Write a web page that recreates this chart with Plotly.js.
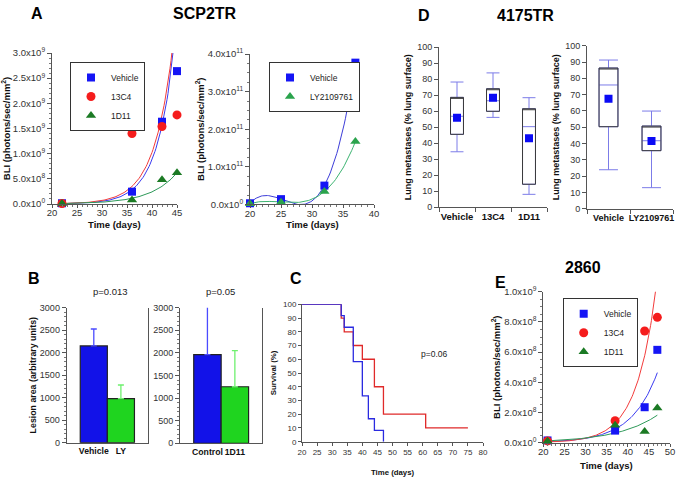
<!DOCTYPE html>
<html><head><meta charset="utf-8">
<script src="https://cdn.plot.ly/plotly-3.0.1.min.js"></script>
<style>html,body{margin:0;padding:0;background:#fff}#chart{width:685px;height:480px}</style>
</head><body><div id="chart"></div>
<script>
// ---------- Panel A (SCP2TR), left ----------
const daysA1 = [22, 36, 42, 45];
const vehicleA1 = [1.5e7, 2.45e8, 1.635e9, 2.64e9];
const c13A1 = [1.0e7, 1.40e9, 1.54e9, 1.77e9];
const d11A1 = [0.8e7, 0.8e8, 4.8e8, 6.2e8];
// exponential growth fits: y = amp * exp(rate * (day - 20))
const fitAmpA1 = [2.95e6, 4.72e6, 5.5e6];      // Vehicle, 13C4, 1D11
const fitRateA1 = [0.285, 0.269, 0.189];
const fitSpanA1 = [22, 45];
const tickValsA1 = [0, 5e8, 1e9, 1.5e9, 2e9, 2.5e9, 3e9];
const tickTextA1 = ['0.0x10<sup>0</sup>', '5.0x10<sup>8</sup>', '1.0x10<sup>9</sup>', '1.5x10<sup>9</sup>', '2.0x10<sup>9</sup>', '2.5x10<sup>9</sup>', '3.0x10<sup>9</sup>'];

// ---------- Panel A (SCP2TR), right ----------
const daysA2 = [20, 25, 32, 37];
const vehicleA2 = [0.3e10, 1.4e10, 5.0e10, 3.77e11];
const lyA2 = [0.2e10, 0.6e10, 3.4e10, 1.67e11];
const tickValsA2 = [0, 1e11, 2e11, 3e11, 4e11];
const tickTextA2 = ['0.0x10<sup>0</sup>', '1.0x10<sup>11</sup>', '2.0x10<sup>11</sup>', '3.0x10<sup>11</sup>', '4.0x10<sup>11</sup>'];

// ---------- Panel D (4175TR) ----------
const catsD1 = ['Vehicle', '13C4', '1D11'];
const q1D1 = [45.6, 60.0, 14.4];
const medD1 = [56.9, 66.6, 50.4];
const q3D1 = [68.7, 74.1, 61.6];
const loD1 = [34.7, 56.2, 8.1];
const hiD1 = [78.3, 84.0, 68.5];
const meanD1 = [56.0, 68.5, 43.1];

const catsD2 = ['Vehicle', 'LY2109761'];
const q1D2 = [50.3, 35.6];
const medD2 = [75.9, 41.7];
const q3D2 = [86.3, 50.7];
const loD2 = [23.9, 12.9];
const hiD2 = [91.2, 59.9];
const meanD2 = [67.5, 41.5];

// ---------- Panel B ----------
const catsB1 = ['Vehicle', 'LY'];
const valsB1 = [2150, 980];
const errB1 = [377, 302];
const catsB2 = ['Control', '1D11'];
const valsB2 = [1962, 1251];
const errB2 = [1208, 800];

// ---------- Panel C (survival) ----------
const timeBlue = [20, 33, 34, 37, 40, 42, 44, 47];
const survBlue = [100, 91.7, 83.3, 58.3, 33.3, 16.7, 8.3, 0];
const timeRed = [20, 33, 34, 37, 40, 44, 47, 61, 75];
const survRed = [100, 90, 80, 70, 60, 40, 20, 10, 10];

// ---------- Panel E (2860) ----------
const daysE = [21, 37, 44, 47];
const vehicleE = [1.5e7, 8.0e7, 2.35e8, 6.15e8];
const c13E = [1.2e7, 1.45e8, 7.4e8, 8.3e8];
const d11E = [1.0e7, 1.15e8, 7.5e7, 2.3e8];
const fitAmpE = [5.54e6, 3.51e6, 1.07e7];       // Vehicle, 13C4, 1D11
const fitRateE = [0.164, 0.2125, 0.105];
const fitSpanE = [21, 47];
const tickValsE = [0, 2e8, 4e8, 6e8, 8e8, 1e9];
const tickTextE = ['0.0x10<sup>0</sup>', '2.0x10<sup>8</sup>', '4.0x10<sup>8</sup>', '6.0x10<sup>8</sup>', '8.0x10<sup>8</sup>', '1.0x10<sup>9</sup>'];

// ---------- helpers ----------
const F = 'Liberation Sans, Arial, sans-serif';
const W = 685, H = 480;
const dx = (a, b) => [a / W, b / W];
const dy = (top, bottom) => [1 - bottom / H, 1 - top / H];

function expCurve(amp, rate, span) {
  const xs = [], ys = [];
  for (let x = span[0]; x <= span[1] + 1e-9; x += 0.2) { xs.push(x); ys.push(amp * Math.exp(rate * (x - 20))); }
  return { xs, ys };
}
function lagrange(xs, ys, x) {
  let s = 0;
  for (let i = 0; i < xs.length; i++) {
    let t = ys[i];
    for (let j = 0; j < xs.length; j++) if (j !== i) t *= (x - xs[j]) / (xs[i] - xs[j]);
    s += t;
  }
  return s;
}
function polyCurve(xs, ys) {
  const ox = [], oy = [];
  for (let x = xs[0]; x <= xs[xs.length - 1] + 1e-9; x += 0.2) { ox.push(x); oy.push(lagrange(xs, ys, x)); }
  return { xs: ox, ys: oy };
}

const BLUE = '#1515f5', RED = '#f51c1c', DGREEN = '#1b7a24', LGREEN = '#2aa34c';
const LBLUE = '#3b3bf0', LRED = '#f23b3b', LGR = '#2f9a5a';

const traces = [];
// A left fits
const fitColA1 = [LBLUE, LRED, LGR];
for (let i = 0; i < 3; i++) {
  const c = expCurve(fitAmpA1[i], fitRateA1[i], fitSpanA1);
  traces.push({ x: c.xs, y: c.ys, xaxis: 'x', yaxis: 'y', mode: 'lines', line: { color: fitColA1[i], width: 1 }, showlegend: false, hoverinfo: 'skip' });
}
traces.push({ x: daysA1, y: vehicleA1, xaxis: 'x', yaxis: 'y', mode: 'markers', name: 'Vehicle', legend: 'legend', marker: { symbol: 'square', size: 8, color: BLUE }, cliponaxis: false });
traces.push({ x: daysA1, y: c13A1, xaxis: 'x', yaxis: 'y', mode: 'markers', name: '13C4', legend: 'legend', marker: { symbol: 'circle', size: 9, color: RED }, cliponaxis: false });
traces.push({ x: daysA1, y: d11A1, xaxis: 'x', yaxis: 'y', mode: 'markers', name: '1D11', legend: 'legend', marker: { symbol: 'triangle-up', size: 9, color: DGREEN }, cliponaxis: false });

// A right cubic curves
const pV = polyCurve(daysA2, vehicleA2), pL = polyCurve(daysA2, lyA2);
traces.push({ x: pV.xs, y: pV.ys, xaxis: 'x2', yaxis: 'y2', mode: 'lines', line: { color: '#3d3dd8', width: 1 }, showlegend: false, hoverinfo: 'skip' });
traces.push({ x: pL.xs, y: pL.ys, xaxis: 'x2', yaxis: 'y2', mode: 'lines', line: { color: '#3cb371', width: 1 }, showlegend: false, hoverinfo: 'skip' });
traces.push({ x: daysA2, y: vehicleA2, xaxis: 'x2', yaxis: 'y2', mode: 'markers', name: 'Vehicle', legend: 'legend2', marker: { symbol: 'square', size: 8, color: BLUE }, cliponaxis: false });
traces.push({ x: daysA2, y: lyA2, xaxis: 'x2', yaxis: 'y2', mode: 'markers', name: 'LY2109761', legend: 'legend2', marker: { symbol: 'triangle-up', size: 9, color: LGREEN }, cliponaxis: false });

// D boxes
function boxPair(cats, q1, med, q3, lo, hi, mean, xa, ya, w) {
  traces.push({ type: 'box', x: cats, q1: q1, median: med, q3: q3, lowerfence: lo, upperfence: hi, xaxis: xa, yaxis: ya,
    width: w, whiskerwidth: 1, line: { color: '#7c7ce8', width: 1 }, fillcolor: 'rgba(0,0,0,0)', showlegend: false, hoverinfo: 'skip' });
  traces.push({ type: 'box', x: cats, q1: q1, median: q3, q3: q3, lowerfence: q1, upperfence: q3, xaxis: xa, yaxis: ya,
    width: w, whiskerwidth: 0, line: { color: '#3a3a3a', width: 1 }, fillcolor: 'rgba(0,0,0,0)', showlegend: false, hoverinfo: 'skip' });
  traces.push({ x: cats, y: mean, xaxis: xa, yaxis: ya, mode: 'markers', marker: { symbol: 'square', size: 8, color: '#0a0af5' }, showlegend: false, hoverinfo: 'skip' });
}
boxPair(catsD1, q1D1, medD1, q3D1, loD1, hiD1, meanD1, 'x3', 'y3', 0.36);
boxPair(catsD2, q1D2, medD2, q3D2, loD2, hiD2, meanD2, 'x4', 'y4', 0.44);

// B bars
const barCols = ['#1212e8', '#1fd41f'], errCols = ['#4b4bff', '#6ef06e'];
function bars(cats, vals, errs, xa, ya) {
  for (let i = 0; i < cats.length; i++) {
    traces.push({ type: 'bar', x: [cats[i]], y: [vals[i]], xaxis: xa, yaxis: ya, width: 1,
      marker: { color: barCols[i], line: { color: '#222', width: 1.2 } },
      error_y: { type: 'data', symmetric: false, array: [errs[i]], arrayminus: [0], color: errCols[i], thickness: 1.3, width: 3 },
      cliponaxis: false, showlegend: false, hoverinfo: 'skip' });
  }
}
bars(catsB1, valsB1, errB1, 'x5', 'y5');
bars(catsB2, valsB2, errB2, 'x6', 'y6');

// C survival
traces.push({ x: timeRed, y: survRed, xaxis: 'x7', yaxis: 'y7', mode: 'lines', line: { shape: 'hv', color: '#e02a2a', width: 1.3 }, showlegend: false, hoverinfo: 'skip' });
traces.push({ x: timeBlue, y: survBlue, xaxis: 'x7', yaxis: 'y7', mode: 'lines', line: { shape: 'hv', color: '#2a2ae0', width: 1.3 }, showlegend: false, hoverinfo: 'skip' });

// E
const fitColE = [LBLUE, LRED, LGR];
for (let i = 0; i < 3; i++) {
  const c = expCurve(fitAmpE[i], fitRateE[i], fitSpanE);
  traces.push({ x: c.xs, y: c.ys, xaxis: 'x8', yaxis: 'y8', mode: 'lines', line: { color: fitColE[i], width: 1 }, showlegend: false, hoverinfo: 'skip' });
}
traces.push({ x: daysE, y: vehicleE, xaxis: 'x8', yaxis: 'y8', mode: 'markers', name: 'Vehicle', legend: 'legend3', marker: { symbol: 'square', size: 8, color: BLUE }, cliponaxis: false });
traces.push({ x: daysE, y: c13E, xaxis: 'x8', yaxis: 'y8', mode: 'markers', name: '13C4', legend: 'legend3', marker: { symbol: 'circle', size: 9, color: RED }, cliponaxis: false });
traces.push({ x: daysE, y: d11E, xaxis: 'x8', yaxis: 'y8', mode: 'markers', name: '1D11', legend: 'legend3', marker: { symbol: 'triangle-up', size: 9, color: DGREEN }, cliponaxis: false });

// ---------- axes ----------
function axis(domain, anchor, o) {
  return Object.assign({
    domain: domain, anchor: anchor, showline: true, linecolor: '#555', linewidth: 1,
    ticks: 'outside', ticklen: 4, tickcolor: '#555', tickwidth: 1, showgrid: false, zeroline: false,
    tickfont: { family: F, size: 9.5, color: '#333' }, fixedrange: true, tickangle: 0
  }, o);
}
function ttl(text, size) { return { text: text, font: { family: F, size: size || 9.5, color: '#111', weight: 'bold' } }; }
const minorX = { dtick: 1, ticklen: 2, tickcolor: '#777' };
const timeX = { dtick: 5, ticklen: 3, ticklabelstandoff: -3, minor: minorX };

const layout = {
  width: W, height: H, margin: { l: 0, r: 0, t: 0, b: 0 }, paper_bgcolor: '#fff', plot_bgcolor: 'rgba(0,0,0,0)',
  font: { family: F, color: '#222' }, boxmode: 'overlay', barmode: 'overlay', bargap: 0,
  xaxis: axis(dx(52, 177), 'y', Object.assign({ range: [20, 45] }, timeX)),
  yaxis: axis(dy(53, 204), 'x', { range: [0, 3e9], tickvals: tickValsA1, ticktext: tickTextA1, minor: { dtick: 1e8, ticklen: 2, tickcolor: '#777' }, title: ttl('BLI (photons/sec/mm<sup>2</sup>)') }),
  xaxis2: axis(dx(250, 374), 'y2', Object.assign({ range: [20, 40] }, timeX)),
  yaxis2: axis(dy(54, 204.4), 'x2', { range: [0, 4e11], tickvals: tickValsA2, ticktext: tickTextA2, minor: { dtick: 2.5e10, ticklen: 2, tickcolor: '#777' }, title: ttl('BLI (photons/sec/mm<sup>2</sup>)') }),
  xaxis3: axis(dx(439, 547), 'y3', { type: 'category', range: [-0.5, 2.5], tickson: 'boundaries', tickfont: { family: F, size: 9.5, color: '#111', weight: 'bold' } }),
  yaxis3: axis(dy(47.3, 207.3), 'x3', { range: [0, 100], dtick: 10, tickfont: { family: F, size: 9, color: '#333' }, title: ttl('Lung metastases (% lung surface)', 9) }),
  xaxis4: axis(dx(587, 673), 'y4', { type: 'category', range: [-0.5, 1.5], tickson: 'boundaries', tickfont: { family: F, size: 9, color: '#111', weight: 'bold' } }),
  yaxis4: axis(dy(45.7, 208.7), 'x4', { range: [0, 100], dtick: 10, tickfont: { family: F, size: 9, color: '#333' }, title: ttl('Lung metastases (% lung surface)', 9) }),
  xaxis5: axis(dx(66.7, 148), 'y5', { type: 'category', range: [-1, 2], ticks: '', tickfont: { family: F, size: 8.7, color: '#111', weight: 'bold' } }),
  yaxis5: axis(dy(307.7, 442.7), 'x5', { range: [0, 3000], dtick: 500, mirror: true, minor: { dtick: 100, ticklen: 2, tickcolor: '#777' }, tickfont: { family: F, size: 9, color: '#333' }, title: ttl('Lesion area (arbitrary units)', 8.8) }),
  xaxis6: axis(dx(180, 262.3), 'y6', { type: 'category', range: [-1, 2], ticks: '', tickfont: { family: F, size: 8.7, color: '#111', weight: 'bold' } }),
  yaxis6: axis(dy(307.7, 443.3), 'x6', { range: [0, 3000], dtick: 500, mirror: true, minor: { dtick: 100, ticklen: 2, tickcolor: '#777' }, tickfont: { family: F, size: 9, color: '#333' } }),
  xaxis7: axis(dx(302, 483), 'y7', { range: [20, 80], dtick: 5, ticklen: 3, tickfont: { family: F, size: 8, color: '#333' }, title: ttl('Time (days)', 7.8) }),
  yaxis7: axis(dy(304.3, 441.7), 'x7', { range: [0, 100], dtick: 10, ticklen: 3, tickfont: { family: F, size: 8, color: '#333' }, title: ttl('Survival (%)', 7.8) }),
  xaxis8: axis(dx(543.3, 670), 'y8', Object.assign({ range: [20, 50] }, timeX)),
  yaxis8: axis(dy(291.7, 442.7), 'x8', { range: [0, 1e9], tickvals: tickValsE, ticktext: tickTextE, minor: { dtick: 5e7, ticklen: 2, tickcolor: '#777' }, title: ttl('BLI (photons/sec/mm<sup>2</sup>)') }),
  legend: { x: 70 / W, y: 1 - 62 / H, xanchor: 'left', yanchor: 'top', bgcolor: '#fff', bordercolor: '#333', borderwidth: 1, font: { family: F, size: 8.5, color: '#222' }, itemwidth: 30 },
  legend2: { x: 269 / W, y: 1 - 62 / H, xanchor: 'left', yanchor: 'top', bgcolor: '#fff', bordercolor: '#333', borderwidth: 1, font: { family: F, size: 8.5, color: '#222' }, itemwidth: 30 },
  legend3: { x: 562.7 / W, y: 1 - 298.3 / H, xanchor: 'left', yanchor: 'top', bgcolor: '#fff', bordercolor: '#333', borderwidth: 1, font: { family: F, size: 8.5, color: '#222' }, itemwidth: 30 },
  annotations: []
};

// x-axis titles of the BLI panels, placed just under their tick labels
const xTitles = [['x', 224], ['x2', 224], ['x8', 465.5]];
xTitles.forEach(t => layout.annotations.push({ text: 'Time (days)', xref: t[0] + ' domain', x: 0.5, yref: 'paper', y: 1 - t[1] / H, xanchor: 'center', yanchor: 'middle', showarrow: false, font: { family: F, size: 9.5, color: '#111', weight: 'bold' } }));

const labels = [
  ['A', 37, 13, 16], ['SCP2TR', 205, 13, 16], ['D', 424, 15, 16], ['4175TR', 525, 15, 16],
  ['B', 34, 278, 16], ['C', 296, 278, 16], ['2860', 583, 267, 16], ['E', 500, 282, 16]
];
labels.forEach(l => layout.annotations.push({ text: l[0], x: l[1] / W, y: 1 - l[2] / H, xref: 'paper', yref: 'paper', xanchor: 'center', yanchor: 'middle', showarrow: false, font: { family: F, size: l[3], color: '#000', weight: 'bold' } }));
const pvals = [['p=0.013', 110, 291, 9.5], ['p=0.05', 220, 291, 9.5], ['p=0.06', 434, 354, 8.5]];
pvals.forEach(l => layout.annotations.push({ text: l[0], x: l[1] / W, y: 1 - l[2] / H, xref: 'paper', yref: 'paper', xanchor: 'center', yanchor: 'middle', showarrow: false, font: { family: F, size: l[3], color: '#222' } }));

Plotly.newPlot('chart', traces, layout, { staticPlot: true, displayModeBar: false });
</script>
</body></html>
